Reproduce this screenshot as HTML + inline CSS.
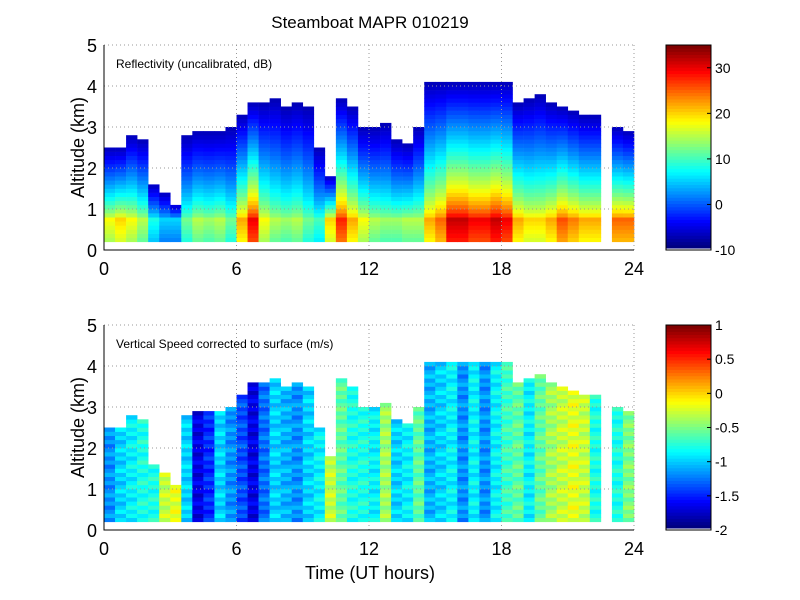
<!DOCTYPE html>
<html><head><meta charset="utf-8"><style>
body{margin:0;background:#fff;}
svg{display:block;font-family:"Liberation Sans",Arial,sans-serif;}
</style></head><body>
<svg id="chart" width="800" height="600">
<text x="370" y="28" font-size="17" text-anchor="middle">Steamboat MAPR 010219</text>
<g id="top"></g>
<g id="bot"></g>
<text x="370" y="579" font-size="18" text-anchor="middle">Time (UT hours)</text>
</svg>
<script>
const times=[0,0.5,1,1.5,2,2.5,3,3.5,4,4.5,5,5.5,6,6.5,7,7.5,8,8.5,9,9.5,10,10.5,11,11.5,12,12.5,13,13.5,14,14.5,15,15.5,16,16.5,17,17.5,18,18.5,19,19.5,20,20.5,21,21.5,22,22.5,23,23.5];
const cloudTop=[2.5,2.5,2.8,2.7,1.6,1.4,1.1,2.8,2.9,2.9,2.9,3.0,3.3,3.6,3.6,3.7,3.5,3.6,3.5,2.5,1.8,3.7,3.5,3.0,3.0,3.1,2.7,2.6,3.0,4.1,4.1,4.1,4.1,4.1,4.1,4.1,4.1,3.6,3.7,3.8,3.6,3.5,3.4,3.3,3.3,0,3.0,2.9];
const maxRefl=[18,20,18,15,8,5,5,12,15,14,15,12,22,30,18,15,14,15,12,10,20,28,22,18,15,14,14,15,15,22,25,32,32,30,30,32,30,22,20,20,22,26,24,22,22,0,25,25];
const vel=[-1.2,-1.0,-0.9,-0.8,-0.8,-0.3,-0.2,-1.0,-1.7,-1.5,-1.0,-1.2,-1.4,-1.7,-1.3,-1.0,-1.1,-1.2,-1.0,-0.9,-0.3,-0.6,-0.8,-0.8,-0.9,-0.4,-1.0,-0.9,-0.6,-1.1,-1.0,-0.9,-1.2,-0.9,-1.2,-0.9,-0.7,-0.6,-0.9,-0.6,-0.4,-0.3,-0.2,-0.3,-0.8,0,-0.8,-0.5];
const xTicks=[0,6,12,18,24];
const yTicks=[0,1,2,3,4,5];
const cbTopTicks=[-10,0,10,20,30];
const cbBotTicks=[-2,-1.5,-1,-0.5,0,0.5,1];
const NS='http://www.w3.org/2000/svg';
function mk(p,t,a){const e=document.createElementNS(NS,t);for(const k in a)e.setAttribute(k,a[k]);p.appendChild(e);return e;}
function jet(v){v=Math.max(0,Math.min(1,v));const f=x=>Math.round(255*Math.max(0,Math.min(1,1.5-Math.abs(4*v-x))));return `rgb(${f(3)},${f(2)},${f(1)})`;}
const X0=104,X1=634;
const xs=t=>X0+(t/24)*(X1-X0);
function panel(g,y0,label,valFn,vmin,vmax,cbTicks,cbFmt){
  const y1=y0+205;const ys=h=>y1-(h/5)*205;
  for(let i=0;i<times.length;i++){
    const top=cloudTop[i];if(top<=0)continue;
    for(let h=0.2;h<top-0.001;h+=0.1){
      const v=valFn(i,h,top);
      const r=mk(g,'rect',{x:xs(times[i]).toFixed(2),y:ys(Math.min(h+0.1,top)).toFixed(2),width:(xs(0.5)-X0+0.3).toFixed(2),height:(ys(h)-ys(Math.min(h+0.1,top))+0.3).toFixed(2),fill:jet((v-vmin)/(vmax-vmin))});
      
      
    }
  }
  xTicks.forEach(t=>{
    const l=mk(g,'line',{x1:xs(t),x2:xs(t),y1:y0,y2:y1,stroke:'#999','stroke-dasharray':'1,3'});
    
    const tx=mk(g,'text',{x:xs(t),y:y1+25,'font-size':18,'text-anchor':'middle'});tx.textContent=t;
    
  });
  yTicks.forEach(t=>{
    const l=mk(g,'line',{x1:X0,x2:X1,y1:ys(t),y2:ys(t),stroke:'#999','stroke-dasharray':'1,3'});
    
    const tx=mk(g,'text',{x:X0-7,y:ys(t)+7,'font-size':18,'text-anchor':'end'});tx.textContent=t;
    
  });
  const ax=mk(g,'path',{d:`M${X0},${y0}V${y1}H${X1}`,stroke:'#000',fill:'none','stroke-width':1});
  
  const lb=mk(g,'text',{x:116,y:y0+23,'font-size':12});lb.textContent=label;
  
  const yt=mk(g,'text',{x:84,y:(y0+y1)/2,'font-size':18,'text-anchor':'middle',transform:`rotate(-90 84 ${(y0+y1)/2})`});yt.textContent='Altitude (km)';
  
  const cx=666,cw=45,n=64;
  for(let k=0;k<n;k++){
    const r=mk(g,'rect',{x:cx,y:y0+(205-2)*(1-(k+1)/n),width:cw,height:203/n+0.5,fill:jet(k/(n-1))});
    
  }
  const cb=mk(g,'rect',{x:cx,y:y0,width:cw,height:205,fill:'none',stroke:'#000'});
  
  cbTicks.forEach(t=>{
    const y=y1-(t-vmin)/(vmax-vmin)*205;
    mk(g,'line',{x1:cx+cw-4,x2:cx+cw,y1:y,y2:y,stroke:'#000'});
    const tx=mk(g,'text',{x:cx+cw+4,y:y+5,'font-size':14});tx.textContent=cbFmt(t);
    
  });
}
panel(document.getElementById('top'),45,'Reflectivity (uncalibrated, dB)',(i,h,top)=>{
  const m=maxRefl[i];
  if(h<0.7) return m-5+5*(h/0.7);
  return m-(m+8)*Math.pow((h-0.7)/Math.max(0.3,top-0.7),0.7);
},-10,35,cbTopTicks,t=>t);
panel(document.getElementById('bot'),325,'Vertical Speed corrected to surface (m/s)',(i,h,top)=>{
  return vel[i]+(((i*7+Math.round(h*10)*3)%5)-2)*0.06;
},-2,1,cbBotTicks,t=>t);
</script>
</body></html>
